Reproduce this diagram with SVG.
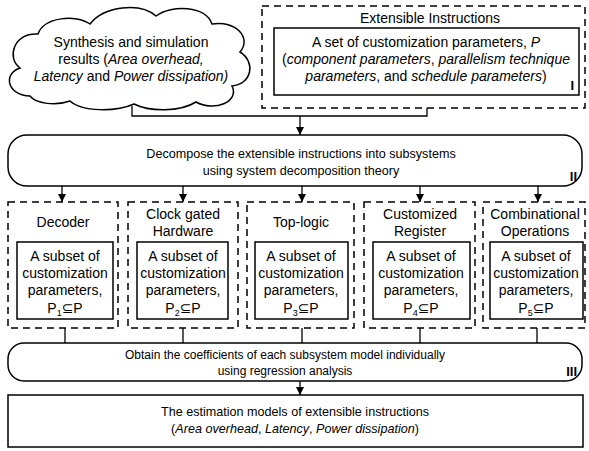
<svg xmlns="http://www.w3.org/2000/svg" width="589" height="451" viewBox="0 0 589 451">
<defs>
<marker id="arr" viewBox="0 0 10 10" refX="10" refY="5" markerWidth="8" markerHeight="8" markerUnits="userSpaceOnUse" orient="auto">
<path d="M0,0 L10,5 L0,10 Z" fill="#000"/>
</marker>
<style>
text{font-family:"Liberation Sans","DejaVu Sans",sans-serif;font-size:14px;fill:#000;text-anchor:middle}
.it{font-style:italic}
.wide{font-size:12.6px}
.narrow{font-size:12px}
.solid{fill:#fff;stroke:#000;stroke-width:1.5}
.dash{fill:none;stroke:#000;stroke-width:1.5;stroke-dasharray:7,5}
.conn{fill:none;stroke:#000;stroke-width:1.3}
.lbl{font-size:13px;font-weight:bold;text-anchor:end}
</style>
</defs>
<rect width="589" height="451" fill="#fff"/>

<g id="connectors">
<polyline class="conn" points="132,106 132,116 427,116 427,108"/>
<line class="conn" x1="300" y1="116" x2="300" y2="135" marker-end="url(#arr)"/>
<line class="conn" x1="62" y1="186" x2="62" y2="202" marker-end="url(#arr)"/>
<line class="conn" x1="183" y1="186" x2="183" y2="202" marker-end="url(#arr)"/>
<line class="conn" x1="302" y1="186" x2="302" y2="202" marker-end="url(#arr)"/>
<line class="conn" x1="420" y1="186" x2="420" y2="202" marker-end="url(#arr)"/>
<line class="conn" x1="538" y1="186" x2="538" y2="202" marker-end="url(#arr)"/>
<line class="conn" x1="65" y1="328" x2="65" y2="343"/>
<line class="conn" x1="183" y1="328" x2="183" y2="343"/>
<line class="conn" x1="302" y1="328" x2="302" y2="343"/>
<line class="conn" x1="420" y1="328" x2="420" y2="343"/>
<line class="conn" x1="537" y1="328" x2="537" y2="343"/>
<line class="conn" x1="300" y1="381" x2="300" y2="395" marker-end="url(#arr)"/>
</g>

<g id="cloud">
<path class="solid" d="M30,96 C8,96 2,74 20,68 C6,58 14,32 38,34 C44,17 76,14 90,24 C104,6 140,2 156,16 C172,4 206,6 212,24 C236,20 252,38 240,52 C256,62 252,84 232,86 C240,102 214,112 196,102 C180,112 150,112 134,104 C116,112 82,112 70,101 C56,106 36,104 30,96 Z"/>
<text x="131" y="47">Synthesis and simulation</text>
<text x="131" y="64">results (<tspan class="it">Area overhead,</tspan></text>
<text x="131" y="81"><tspan class="it">Latency</tspan> and <tspan class="it">Power dissipation)</tspan></text>
</g>

<g id="extensible">
<rect class="dash" x="262" y="6" width="323" height="102"/>
<text x="430" y="23">Extensible Instructions</text>
<rect class="solid" x="274" y="28" width="305" height="67"/>
<text x="426" y="47">A set of customization parameters, <tspan class="it">P</tspan></text>
<text x="426" y="64">(<tspan class="it">component parameters</tspan>, <tspan class="it">parallelism technique</tspan></text>
<text x="426" y="81"><tspan class="it">parameters</tspan>, and <tspan class="it">schedule parameters</tspan>)</text>
<text class="lbl" x="574" y="90">I</text>
</g>

<g id="decompose">
<rect class="solid" x="8" y="135" width="574" height="51" rx="19"/>
<text class="wide" x="301" y="158">Decompose the extensible instructions into subsystems</text>
<text class="wide" x="301" y="175">using system decomposition theory</text>
<text class="lbl" x="577" y="181">II</text>
</g>

<g id="decoder">
<rect class="dash" x="8" y="202" width="110" height="126"/>
<text x="63" y="227">Decoder</text>
<rect class="solid" x="17" y="242" width="96" height="77"/>
<text x="65" y="261">A subset of</text>
<text x="65" y="278">customization</text>
<text x="65" y="295">parameters,</text>
<text x="65" y="313">P<tspan font-size="9" dy="3">1</tspan><tspan dy="-3">⊆P</tspan></text>
</g>

<g id="clock">
<rect class="dash" x="128" y="202" width="110" height="126"/>
<text x="183" y="219">Clock gated</text>
<text x="183" y="236">Hardware</text>
<rect class="solid" x="137" y="242" width="91" height="77"/>
<text x="183" y="261">A subset of</text>
<text x="183" y="278">customization</text>
<text x="183" y="295">parameters,</text>
<text x="183" y="313">P<tspan font-size="9" dy="3">2</tspan><tspan dy="-3">⊆P</tspan></text>
</g>

<g id="toplogic">
<rect class="dash" x="247" y="202" width="107" height="126"/>
<text x="301" y="227">Top-logic</text>
<rect class="solid" x="255" y="242" width="93" height="77"/>
<text x="301" y="261">A subset of</text>
<text x="301" y="278">customization</text>
<text x="301" y="295">parameters,</text>
<text x="301" y="313">P<tspan font-size="9" dy="3">3</tspan><tspan dy="-3">⊆P</tspan></text>
</g>

<g id="register">
<rect class="dash" x="364" y="202" width="111" height="126"/>
<text x="420" y="219">Customized</text>
<text x="420" y="236">Register</text>
<rect class="solid" x="373" y="242" width="97" height="77"/>
<text x="421" y="261">A subset of</text>
<text x="421" y="278">customization</text>
<text x="421" y="295">parameters,</text>
<text x="421" y="313">P<tspan font-size="9" dy="3">4</tspan><tspan dy="-3">⊆P</tspan></text>
</g>

<g id="combinational">
<rect class="dash" x="483" y="202" width="102" height="126"/>
<text x="535" y="219">Combinational</text>
<text x="535" y="236">Operations</text>
<rect class="solid" x="490" y="242" width="93" height="77"/>
<text x="536" y="261">A subset of</text>
<text x="536" y="278">customization</text>
<text x="536" y="295">parameters,</text>
<text x="536" y="313">P<tspan font-size="9" dy="3">5</tspan><tspan dy="-3">⊆P</tspan></text>
</g>

<g id="obtain">
<rect class="solid" x="8" y="343" width="574" height="38" rx="16"/>
<text class="narrow" x="285" y="359">Obtain the coefficients of each subsystem model individually</text>
<text class="narrow" x="285" y="375">using regression analysis</text>
<text class="lbl" x="577" y="376">III</text>
</g>

<g id="estimation">
<rect class="solid" x="8" y="395" width="575" height="52"/>
<text class="wide" x="295" y="416">The estimation models of extensible instructions</text>
<text class="wide" x="295" y="433">(<tspan class="it">Area overhead</tspan>, <tspan class="it">Latency</tspan>, <tspan class="it">Power dissipation</tspan>)</text>
</g>
</svg>
